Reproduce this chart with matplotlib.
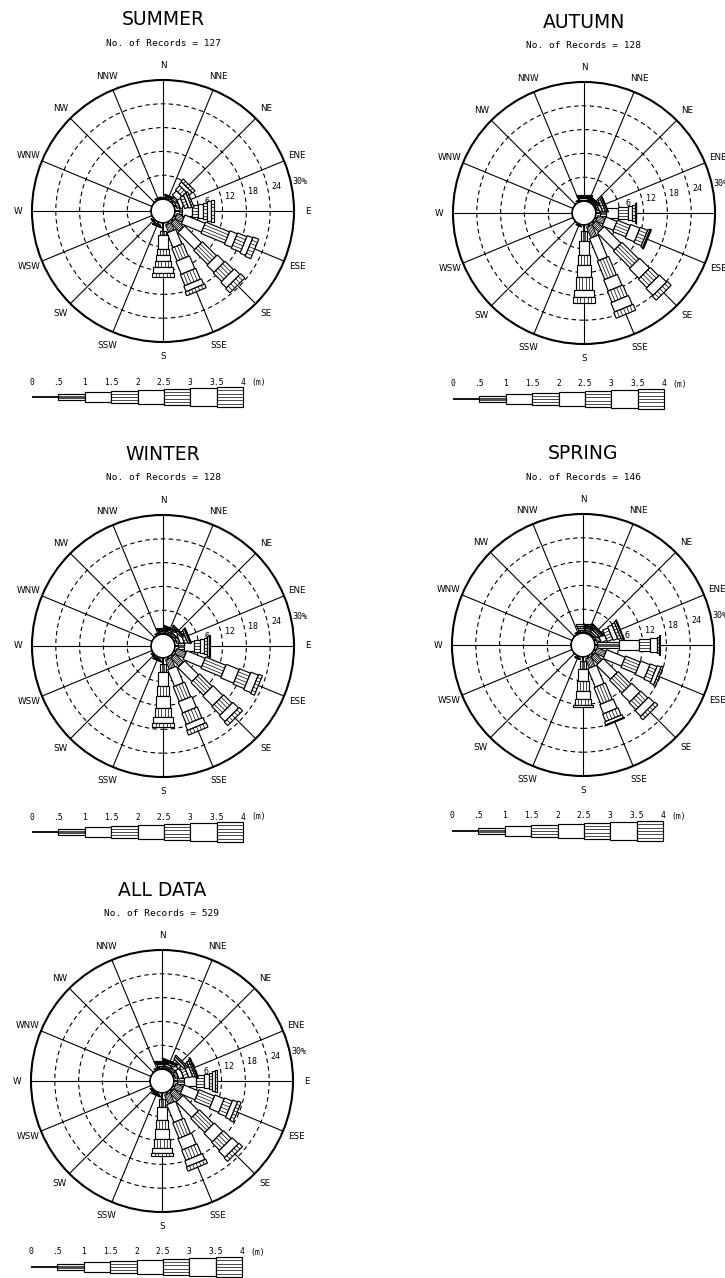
import numpy as np
import matplotlib
matplotlib.use("Agg")
import matplotlib.pyplot as plt
from matplotlib.patches import Polygon, Circle

DIRECTIONS = ["N", "NNE", "NE", "ENE", "E", "ESE", "SE", "SSE",
              "S", "SSW", "SW", "WSW", "W", "WNW", "NW", "NNW"]
HEIGHT_TICKS = ["0", ".5", "1", "1.5", "2", "2.5", "3", "3.5", "4"]
RING_VALUES = [6, 12, 18, 24, 30]
RING_LABELS = ["6", "12", "18", "24", "30%"]

TITLES = ["SUMMER", "AUTUMN", "WINTER", "SPRING", "ALL DATA"]
RECORDS = [127, 128, 128, 146, 529]

# frequency of occurrence (%) by direction; columns are wave-height classes
# 0-.5, .5-1, 1-1.5, 1.5-2, 2-2.5, 2.5-3, 3-3.5, 3.5-4 m
summer = [
    [0.4, 0.2, 0, 0, 0, 0, 0, 0],
    [0.4, 0.4, 0.3, 0, 0, 0, 0, 0],
    [0.5, 1.0, 1.5, 1.5, 1.0, 0.8, 0, 0],
    [0.5, 0.8, 1.0, 1.0, 0.8, 0.5, 0, 0],
    [1.0, 0.8, 2.5, 1.5, 1.2, 1.0, 1.0, 0.8],
    [0.5, 2.0, 5.5, 6.5, 2.0, 2.5, 1.5, 1.5],
    [0.5, 3.0, 6.0, 5.0, 2.5, 3.0, 2.0, 1.5],
    [0.5, 2.0, 4.0, 3.5, 3.5, 3.0, 1.5, 1.0],
    [2.0, 1.0, 3.5, 1.5, 1.5, 1.5, 1.5, 1.0],
    [0.5, 0.4, 0.2, 0, 0, 0, 0, 0],
    [0.4, 0.2, 0, 0, 0, 0, 0, 0],
    [0.3, 0, 0, 0, 0, 0, 0, 0],
    [0.3, 0, 0, 0, 0, 0, 0, 0],
    [0.3, 0, 0, 0, 0, 0, 0, 0],
    [0.3, 0, 0, 0, 0, 0, 0, 0],
    [0.3, 0.2, 0, 0, 0, 0, 0, 0],
]
autumn = [
    [0.2, 0.2, 0.3, 0.3, 0.3, 0.3, 0, 0],
    [0.3, 0.3, 0.2, 0, 0, 0, 0, 0],
    [0.3, 0.4, 0.3, 0.2, 0, 0, 0, 0],
    [0.3, 0.5, 0.7, 0.7, 0.4, 0.2, 0, 0],
    [1.0, 1.5, 3.0, 2.5, 1.2, 0.6, 0.3, 0.1],
    [0.5, 2.0, 3.0, 3.5, 2.5, 2.0, 0.5, 0.3],
    [0.5, 2.5, 6.0, 6.0, 3.5, 3.0, 2.5, 1.4],
    [0.5, 3.0, 6.0, 5.0, 3.0, 3.0, 2.5, 1.6],
    [1.5, 2.5, 3.5, 2.5, 3.0, 3.5, 1.7, 1.5],
    [0.3, 0.2, 0, 0, 0, 0, 0, 0],
    [0.3, 0, 0, 0, 0, 0, 0, 0],
    [0.3, 0, 0, 0, 0, 0, 0, 0],
    [0.3, 0, 0, 0, 0, 0, 0, 0],
    [0.3, 0, 0, 0, 0, 0, 0, 0],
    [0.3, 0, 0, 0, 0, 0, 0, 0],
    [0.3, 0.2, 0, 0, 0, 0, 0, 0],
]
winter = [
    [0.3, 0.4, 0.4, 0.3, 0.2, 0, 0, 0],
    [0.3, 0.5, 0.5, 0.4, 0.2, 0, 0, 0],
    [0.4, 0.6, 0.8, 0.5, 0.3, 0, 0, 0],
    [0.5, 0.8, 1.0, 0.8, 0.5, 0.3, 0, 0],
    [0.8, 1.5, 2.5, 1.5, 1.0, 0.7, 0.5, 0.3],
    [0.5, 2.5, 5.0, 5.5, 3.5, 3.0, 2.0, 1.0],
    [0.5, 3.0, 5.0, 4.5, 3.5, 3.0, 2.0, 1.2],
    [0.5, 2.5, 4.5, 4.0, 3.0, 3.0, 1.5, 1.2],
    [1.5, 2.0, 3.5, 2.5, 3.0, 2.5, 1.5, 1.0],
    [0.4, 0.3, 0.2, 0, 0, 0, 0, 0],
    [0.3, 0.2, 0, 0, 0, 0, 0, 0],
    [0.3, 0, 0, 0, 0, 0, 0, 0],
    [0.3, 0, 0, 0, 0, 0, 0, 0],
    [0.3, 0, 0, 0, 0, 0, 0, 0],
    [0.3, 0, 0, 0, 0, 0, 0, 0],
    [0.3, 0.2, 0, 0, 0, 0, 0, 0],
]
spring = [
    [0.3, 0.4, 0.6, 0.6, 0.5, 0, 0, 0],
    [0.3, 0.5, 0.5, 0.4, 0.3, 0, 0, 0],
    [0.3, 0.5, 0.6, 0.5, 0.4, 0.2, 0, 0],
    [0.5, 1.0, 1.5, 1.5, 1.2, 0.8, 0.5, 0.2],
    [0.5, 5.5, 5.0, 3.0, 1.6, 0.6, 0.2, 0],
    [0.5, 2.5, 5.0, 4.0, 2.5, 1.8, 1.0, 0.5],
    [0.5, 2.5, 5.0, 4.5, 3.0, 2.5, 2.0, 1.0],
    [0.5, 2.5, 5.0, 4.5, 2.5, 2.0, 0.8, 0.2],
    [1.0, 2.0, 3.0, 2.5, 2.0, 1.5, 0.5, 0],
    [0.4, 0.3, 0, 0, 0, 0, 0, 0],
    [0.3, 0, 0, 0, 0, 0, 0, 0],
    [0.3, 0, 0, 0, 0, 0, 0, 0],
    [0.3, 0, 0, 0, 0, 0, 0, 0],
    [0.3, 0, 0, 0, 0, 0, 0, 0],
    [0.3, 0, 0, 0, 0, 0, 0, 0],
    [0.3, 0.2, 0, 0, 0, 0, 0, 0],
]
all_data = [
    [0.3, 0.4, 0.5, 0.4, 0.3, 0.1, 0, 0],
    [0.3, 0.5, 0.6, 0.5, 0.3, 0.2, 0, 0],
    [0.4, 0.7, 1.0, 1.0, 0.6, 0.4, 0, 0],
    [0.4, 0.8, 1.2, 1.2, 1.0, 0.6, 0.4, 0.2],
    [0.8, 1.8, 3.0, 2.0, 1.3, 0.8, 0.6, 0.5],
    [0.5, 2.0, 4.0, 4.2, 2.5, 2.1, 1.3, 0.9],
    [0.5, 2.8, 5.5, 5.0, 3.0, 2.8, 2.2, 1.2],
    [0.5, 2.5, 4.8, 4.2, 3.0, 2.8, 1.6, 1.1],
    [1.5, 2.0, 3.3, 2.3, 2.4, 2.3, 1.3, 0.9],
    [0.4, 0.3, 0.2, 0, 0, 0, 0, 0],
    [0.3, 0.2, 0, 0, 0, 0, 0, 0],
    [0.3, 0, 0, 0, 0, 0, 0, 0],
    [0.3, 0, 0, 0, 0, 0, 0, 0],
    [0.3, 0, 0, 0, 0, 0, 0, 0],
    [0.3, 0, 0, 0, 0, 0, 0, 0],
    [0.3, 0.2, 0, 0, 0, 0, 0, 0],
]
SEASONS = [summer, autumn, winter, spring, all_data]

# ---- layout (pixels) ----
W, H = 725, 1278
CENTERS = [(163, 211), (584, 213), (163, 646), (583, 645), (162, 1081)]
K = 3.97          # pixels per percent
HOLE = 3.0        # radius of the calm circle, in percent units
AX_PX = 340

# class widths (percent units) and number of hatch lines along each bar
WIDTHS = [0, 1.5, 2.4, 3.1, 3.7, 4.2, 4.8, 5.3]
KEY_WIDTHS = [0, 1.5, 2.3, 3.0, 3.5, 3.9, 4.5, 5.0]
HATCH = [0, 3, 0, 3, 0, 4, 0, 5]

LABEL_FONT = ["DejaVu Sans"]
MONO_FONT = ["DejaVu Sans Mono"]

fig = plt.figure(figsize=(W / 100, H / 100), dpi=100)
fig.patch.set_facecolor("white")


def segment(ax, origin, theta, r0, r1, cls, z, widths=WIDTHS):
    u = np.array([np.sin(theta), np.cos(theta)])
    n = np.array([np.cos(theta), -np.sin(theta)])
    o = np.asarray(origin, dtype=float)
    if cls == 0:
        a, b = o + u * r0, o + u * r1
        ax.plot([a[0], b[0]], [a[1], b[1]], color="k", lw=1.3,
                solid_capstyle="butt", zorder=z, clip_on=False)
        return
    w = widths[cls]
    pts = [o + u * r0 + n * w / 2, o + u * r1 + n * w / 2,
           o + u * r1 - n * w / 2, o + u * r0 - n * w / 2]
    ax.add_patch(Polygon(pts, closed=True, fc="white", ec="k", lw=0.85,
                         zorder=z, joinstyle="miter", clip_on=False))
    m = HATCH[cls]
    for j in range(1, m + 1):
        off = -w / 2 + j * w / (m + 1)
        a, b = o + u * r0 + n * off, o + u * r1 + n * off
        ax.plot([a[0], b[0]], [a[1], b[1]], color="k", lw=0.5,
                zorder=z + 0.1, clip_on=False)


def rose(idx):
    cx, cy = CENTERS[idx]
    ax = fig.add_axes([(cx - AX_PX / 2) / W, 1 - (cy + AX_PX / 2) / H,
                       AX_PX / W, AX_PX / H])
    half = AX_PX / 2 / K
    ax.set_xlim(-half, half)
    ax.set_ylim(-half, half)
    ax.axis("off")

    outer = HOLE + RING_VALUES[-1]
    # radial spokes
    for i in range(len(DIRECTIONS)):
        t = np.deg2rad(22.5 * i)
        ax.plot([HOLE * np.sin(t), outer * np.sin(t)],
                [HOLE * np.cos(t), outer * np.cos(t)],
                color="k", lw=0.8, zorder=1, clip_on=False)
    # dashed frequency rings
    for v in RING_VALUES[:-1]:
        ax.add_patch(Circle((0, 0), HOLE + v, fill=False, ec="k", lw=0.8,
                            ls=(0, (4, 3)), zorder=1, clip_on=False))
    ax.add_patch(Circle((0, 0), outer, fill=False, ec="k", lw=1.5, zorder=2,
                        clip_on=False))
    # ring labels just above the east spoke
    lab_t = np.deg2rad(78)
    for v, s in zip(RING_VALUES, RING_LABELS):
        r = HOLE + v + 2.3
        ax.text(r * np.sin(lab_t), r * np.cos(lab_t), s, fontsize=6,
                family=MONO_FONT, ha="center", va="center", zorder=1.5,
                bbox=dict(fc="white", ec="none", pad=0.3))
    # direction labels
    for i, d in enumerate(DIRECTIONS):
        t = np.deg2rad(22.5 * i)
        r = outer + 3.6
        ax.text(r * np.sin(t), r * np.cos(t), d, fontsize=6.3,
                family=LABEL_FONT, ha="center", va="center")

    # petals
    data = SEASONS[idx]
    for i, row in enumerate(data):
        t = np.deg2rad(22.5 * i)
        r = HOLE
        for c, v in enumerate(row):
            if v <= 0:
                continue
            segment(ax, (0, 0), t, r, r + v, c, 3 + c * 0.2)
            r += v
    ax.add_patch(Circle((0, 0), HOLE, fc="white", ec="k", lw=1.2, zorder=6,
                        clip_on=False))

    # titles
    ax.text(0, 191 / K, TITLES[idx], fontsize=13.5, family=LABEL_FONT,
            ha="center", va="center")
    ax.text(0, 168 / K, f"No. of Records = {RECORDS[idx]}", fontsize=6.8,
            family=MONO_FONT, ha="center", va="center")

    # wave-height key
    x0, yk = -131 / K, -186 / K
    step = 26.4 / K
    for c in range(8):
        segment(ax, (x0, yk), np.pi / 2, c * step, (c + 1) * step, c, 3,
                widths=KEY_WIDTHS)
    for j, s in enumerate(HEIGHT_TICKS):
        ax.text(x0 + j * step, -171 / K, s, fontsize=5.8, family=MONO_FONT,
                ha="center", va="center")
    ax.text(x0 + 8 * step + 15 / K, -171 / K, "(m)", fontsize=5.8,
            family=MONO_FONT, ha="center", va="center")


for k in range(len(TITLES)):
    rose(k)

fig.savefig("out.png", dpi=100, facecolor="white")
